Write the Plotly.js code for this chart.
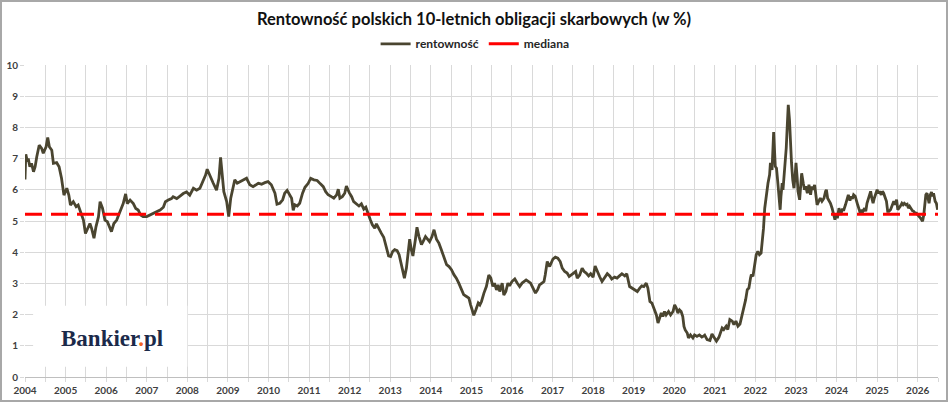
<!DOCTYPE html>
<html>
<head>
<meta charset="utf-8">
<script src="https://cdn.plot.ly/plotly-3.0.1.min.js"></script>
<style>
  html, body { margin: 0; padding: 0; background: #fff; }
  #wrap { position: relative; width: 948px; height: 402px; }
  #chart { width: 948px; height: 402px; }
  #frame { position: absolute; left: 0; top: 0; width: 948px; height: 402px;
           box-sizing: border-box; border: 2px solid #a8a8a8; pointer-events: none; }
</style>
</head>
<body>
<div id="wrap">
  <div id="chart"></div>
  <div id="frame"></div>
</div>
<script>
// ---- data: yield of Polish 10Y treasury bonds ----
const dates = [
  2004.00, 2004.02, 2004.06, 2004.08, 2004.12, 2004.16, 2004.21, 2004.25, 2004.29, 2004.35,
  2004.41, 2004.45, 2004.52, 2004.56, 2004.60, 2004.66, 2004.70, 2004.78, 2004.84, 2004.90,
  2004.96, 2005.03, 2005.08, 2005.12, 2005.19, 2005.26, 2005.31, 2005.37, 2005.44, 2005.49,
  2005.56, 2005.60, 2005.64, 2005.70, 2005.75, 2005.81, 2005.85, 2005.91, 2005.97, 2006.03,
  2006.08, 2006.13, 2006.19, 2006.26, 2006.34, 2006.42, 2006.48, 2006.52, 2006.59, 2006.67,
  2006.73, 2006.79, 2006.85, 2006.91, 2007.00, 2007.08, 2007.16, 2007.24, 2007.33, 2007.41,
  2007.46, 2007.53, 2007.61, 2007.65, 2007.74, 2007.82, 2007.90, 2007.98, 2008.06, 2008.15,
  2008.23, 2008.31, 2008.39, 2008.45, 2008.49, 2008.56, 2008.64, 2008.72, 2008.78, 2008.82,
  2008.86, 2008.90, 2008.97, 2009.02, 2009.07, 2009.13, 2009.17, 2009.23, 2009.30, 2009.38,
  2009.46, 2009.54, 2009.62,
  2009.75, 2009.83, 2009.91, 2009.99, 2010.07, 2010.16, 2010.21, 2010.28, 2010.35, 2010.40,
  2010.46, 2010.53, 2010.57, 2010.61, 2010.65, 2010.71, 2010.77, 2010.84, 2010.90, 2010.98,
  2011.04, 2011.12, 2011.20, 2011.28, 2011.35, 2011.41, 2011.47, 2011.55, 2011.61, 2011.68,
  2011.72, 2011.76, 2011.82, 2011.88, 2011.92, 2011.99, 2012.05, 2012.10, 2012.17, 2012.23,
  2012.29, 2012.35, 2012.40, 2012.46, 2012.51, 2012.56, 2012.62, 2012.66, 2012.73, 2012.78,
  2012.84, 2012.91, 2012.96, 2013.01, 2013.06, 2013.11, 2013.17, 2013.22, 2013.27, 2013.32,
  2013.35, 2013.40, 2013.44, 2013.48, 2013.52, 2013.56, 2013.62, 2013.66, 2013.71, 2013.77,
  2013.81, 2013.87, 2013.92, 2013.97, 2014.03, 2014.08, 2014.14, 2014.20, 2014.26, 2014.32,
  2014.39, 2014.45, 2014.51, 2014.57, 2014.63, 2014.69, 2014.75, 2014.81, 2014.88, 2014.94,
  2014.98, 2015.03, 2015.06, 2015.11, 2015.17,
  2015.21, 2015.25, 2015.31, 2015.37, 2015.43, 2015.48, 2015.53, 2015.57, 2015.62, 2015.66,
  2015.70, 2015.76, 2015.80, 2015.85, 2015.90, 2015.94, 2016.00, 2016.07, 2016.13, 2016.19,
  2016.25, 2016.30, 2016.35, 2016.41, 2016.46, 2016.52, 2016.58, 2016.63, 2016.68, 2016.74,
  2016.79, 2016.82, 2016.87, 2016.93, 2016.97, 2017.01, 2017.07, 2017.13, 2017.19, 2017.24,
  2017.30, 2017.36, 2017.41, 2017.46, 2017.52, 2017.57, 2017.61, 2017.67, 2017.73, 2017.78,
  2017.83, 2017.89, 2017.94, 2018.00, 2018.05, 2018.10, 2018.16, 2018.22, 2018.28, 2018.35,
  2018.41, 2018.46, 2018.53, 2018.59, 2018.65, 2018.71, 2018.78, 2018.83, 2018.90, 2018.96,
  2019.02, 2019.09, 2019.15, 2019.20, 2019.25, 2019.31, 2019.35, 2019.40, 2019.45, 2019.52,
  2019.56, 2019.60, 2019.64, 2019.68, 2019.72, 2019.76, 2019.80, 2019.86, 2019.91, 2019.97,
  2020.01, 2020.05, 2020.09, 2020.13, 2020.17, 2020.21, 2020.24, 2020.27, 2020.32, 2020.35,
  2020.40, 2020.46, 2020.50, 2020.56, 2020.62, 2020.68, 2020.73,
  2020.75, 2020.81, 2020.88, 2020.93, 2020.98, 2021.04, 2021.10, 2021.14, 2021.18, 2021.22,
  2021.28, 2021.32, 2021.37, 2021.43, 2021.47, 2021.52, 2021.57, 2021.62, 2021.67, 2021.72,
  2021.76, 2021.80, 2021.84, 2021.88, 2021.90, 2021.94, 2021.98, 2022.02, 2022.06, 2022.10,
  2022.14, 2022.17, 2022.20, 2022.23, 2022.27, 2022.31, 2022.35, 2022.37, 2022.41, 2022.45,
  2022.49, 2022.52, 2022.55, 2022.59, 2022.61, 2022.63, 2022.66, 2022.68, 2022.72, 2022.76,
  2022.79, 2022.81, 2022.84, 2022.86, 2022.89, 2022.92, 2022.95, 2022.98, 2023.00, 2023.03,
  2023.05, 2023.09, 2023.11, 2023.14, 2023.18, 2023.21, 2023.24, 2023.28, 2023.32, 2023.36,
  2023.39, 2023.42, 2023.46, 2023.49, 2023.52, 2023.56, 2023.60, 2023.64, 2023.69, 2023.73,
  2023.75, 2023.78, 2023.82, 2023.85, 2023.89, 2023.93, 2023.96, 2023.99, 2024.02, 2024.06,
  2024.10, 2024.14, 2024.18, 2024.22, 2024.26, 2024.29, 2024.33, 2024.36, 2024.39, 2024.42,
  2024.46, 2024.49, 2024.52, 2024.56, 2024.59, 2024.62, 2024.65, 2024.69, 2024.72, 2024.75,
  2024.79, 2024.84, 2024.87, 2024.90, 2024.93, 2024.97, 2025.00, 2025.03, 2025.06, 2025.10,
  2025.13, 2025.16, 2025.20, 2025.23, 2025.26, 2025.29, 2025.33, 2025.37, 2025.41, 2025.44,
  2025.48, 2025.51, 2025.54, 2025.57, 2025.61, 2025.64, 2025.67, 2025.71, 2025.74, 2025.77,
  2025.80, 2025.84, 2025.87, 2025.90, 2025.94, 2025.97, 2026.00, 2026.03, 2026.07, 2026.10,
  2026.12, 2026.15, 2026.17, 2026.20, 2026.23, 2026.25, 2026.28, 2026.31, 2026.34, 2026.36,
  2026.39, 2026.43, 2026.46, 2026.49
];
const yields = [
  6.33, 7.14, 6.90, 7.00, 6.74, 6.85, 6.58, 6.74, 7.06, 7.43,
  7.33, 7.17, 7.38, 7.68, 7.38, 7.27, 6.85, 6.87, 6.74, 6.37,
  5.83, 6.05, 5.83, 5.51, 5.62, 5.46, 5.51, 5.30, 5.03, 4.60,
  4.82, 4.92, 4.77, 4.45, 4.82, 5.13, 5.62, 5.41, 5.03, 4.98,
  4.82, 4.66, 4.92, 5.03, 5.30, 5.56, 5.87, 5.56, 5.67, 5.56,
  5.40, 5.35, 5.19, 5.14, 5.14, 5.19, 5.24, 5.30, 5.35, 5.44,
  5.62, 5.67, 5.72, 5.78, 5.72, 5.80, 5.88, 5.93, 5.83, 6.05,
  5.99, 6.05, 6.26, 6.47, 6.66, 6.42, 6.21, 5.99, 6.37, 7.04,
  6.37, 5.94, 5.62, 5.14, 5.73, 6.05, 6.32, 6.21, 6.26, 6.32,
  6.37, 6.16, 6.10,
  6.21, 6.18, 6.23, 6.26, 6.16, 5.89, 5.54, 5.57, 5.68, 5.89,
  5.98, 5.84, 5.73, 5.34, 5.52, 5.48, 5.57, 5.89, 6.08, 6.21,
  6.37, 6.32, 6.30, 6.19, 6.10, 5.94, 5.84, 5.78, 5.73, 5.84,
  6.02, 5.73, 5.78, 5.89, 6.12, 5.91, 5.78, 5.62, 5.55, 5.48,
  5.55, 5.38, 5.44, 5.20, 5.04, 4.88, 4.77, 4.91, 4.72, 4.61,
  4.48, 4.16, 3.88, 3.86, 4.02, 4.08, 4.05, 3.92, 3.65, 3.35,
  3.17, 3.49, 3.97, 4.42, 4.08, 3.88, 4.40, 4.80, 4.50, 4.24,
  4.34, 4.50, 4.42, 4.34, 4.50, 4.72, 4.42, 4.29, 4.08, 3.86,
  3.60, 3.54, 3.44, 3.28, 3.17, 3.01, 2.85, 2.64, 2.58, 2.53,
  2.32, 2.10, 1.98, 2.15, 2.37,
  2.31, 2.42, 2.69, 2.90, 3.27, 3.17, 2.90, 3.01, 2.79, 2.95,
  2.74, 3.01, 2.63, 2.74, 3.01, 2.92, 3.06, 3.14, 3.01, 2.90,
  3.01, 3.06, 3.11, 3.06, 3.01, 2.85, 2.69, 2.79, 2.95, 3.01,
  3.06, 3.27, 3.70, 3.54, 3.67, 3.78, 3.84, 3.81, 3.70, 3.49,
  3.38, 3.33, 3.22, 3.27, 3.31, 3.38, 3.17, 3.27, 3.49, 3.38,
  3.33, 3.24, 3.31, 3.20, 3.56, 3.38, 3.22, 3.06, 3.17, 3.31,
  3.24, 3.14, 3.20, 3.17, 3.24, 3.31, 3.24, 3.31, 2.90, 2.85,
  2.79, 2.74, 2.85, 2.92, 2.90, 3.01, 2.85, 2.42, 2.37, 2.15,
  1.99, 1.73, 1.94, 2.05, 1.94, 2.10, 1.99, 2.10, 1.99, 2.10,
  2.31, 2.21, 2.05, 2.15, 2.10, 1.94, 1.62, 1.51, 1.41, 1.25,
  1.35, 1.25, 1.35, 1.30, 1.35, 1.28, 1.32,
  1.34, 1.20, 1.17, 1.38, 1.27, 1.15, 1.27, 1.44, 1.57, 1.52,
  1.63, 1.52, 1.84, 1.79, 1.68, 1.79, 1.63, 1.70, 1.95, 2.21,
  2.48, 2.80, 2.85, 3.17, 3.28, 3.23, 3.55, 3.92, 4.03, 3.92,
  3.97, 4.35, 4.77, 5.41, 5.84, 6.21, 6.48, 6.86, 6.64, 7.85,
  6.75, 6.69, 6.27, 5.63, 5.36, 5.79, 6.21, 6.00, 6.64, 7.34,
  8.19, 8.72, 8.24, 7.50, 6.86, 6.32, 6.05, 6.48, 6.86, 6.37,
  5.95, 5.68, 6.05, 6.53, 6.21, 6.00, 6.11, 5.89, 6.16, 5.84,
  6.11, 6.00, 6.16, 5.84, 5.52, 5.63, 5.73, 5.63, 5.73, 5.95,
  6.00, 5.73, 5.63, 5.57, 5.41, 5.15, 5.04, 5.25, 5.09, 5.41,
  5.20, 5.36, 5.36, 5.52, 5.68, 5.84, 5.65, 5.79, 5.71, 5.84,
  5.79, 5.63, 5.52, 5.36, 5.20, 5.36, 5.31, 5.41, 5.31, 5.57,
  5.73, 5.95, 5.73, 5.57, 5.73, 5.89, 6.00, 5.89, 5.95, 5.84,
  5.95, 5.89, 5.73, 5.63, 5.31, 5.31, 5.36, 5.52, 5.63, 5.52,
  5.68, 5.36, 5.41, 5.47, 5.57, 5.52, 5.57, 5.52, 5.54, 5.41,
  5.47, 5.36, 5.33, 5.31, 5.25, 5.25, 5.18, 5.15, 5.09, 5.04,
  4.99, 5.20, 5.52, 5.84, 5.89, 5.73, 5.57, 5.84, 5.93, 5.79,
  5.89, 5.63, 5.57, 5.36
];
const medianValue = 5.22;
const axisRange = [2004, 2026.5];
const yearLabels = [];
for (let y = 2004; y <= 2026; y++) yearLabels.push(y);

// gridlines every half year, labels only on full years
const tickVals = [];
const tickText = [];
yearLabels.forEach(y => {
  tickVals.push(y, y + 0.5);
  tickText.push(String(y), '');
});

const FONT = 'Lato, "Open Sans", sans-serif';
const GRID = '#d9d9d9';
const LINE_COLOR = '#4a4530';
const MEDIAN_COLOR = '#ff0000';

const traces = [
  {
    type: 'scatter',
    mode: 'lines',
    name: 'rentowność',
    x: dates,
    y: yields,
    line: { color: LINE_COLOR, width: 2.8 },
    hoverinfo: 'x+y',
  },
  {
    // the dashed median line itself (legend entry below is drawn solid, as in Excel)
    type: 'scatter',
    mode: 'lines',
    name: 'mediana',
    x: axisRange,
    y: axisRange.map(() => medianValue),
    line: { color: MEDIAN_COLOR, width: 3, dash: '17px,9px' },
    showlegend: false,
    hoverinfo: 'y',
  },
  {
    type: 'scatter',
    mode: 'lines',
    name: 'mediana',
    x: [null],
    y: [null],
    line: { color: MEDIAN_COLOR, width: 3 },
    hoverinfo: 'skip',
  },
];

const layout = {
  width: 948,
  height: 402,
  margin: { l: 25, r: 10, t: 65, b: 25 },
  paper_bgcolor: '#ffffff',
  plot_bgcolor: '#ffffff',
  font: { family: FONT, size: 10, color: '#404040' },
  title: {
    text: 'Rentowność polskich 10-letnich obligacji skarbowych (w %)',
    font: { family: FONT, size: 16.5, color: '#111111', weight: 'bold' },
    x: 0.5, xanchor: 'center',
    y: 0.952, yanchor: 'middle',
  },
  showlegend: true,
  legend: {
    orientation: 'h',
    x: 0.493, xanchor: 'center',
    y: 1.068, yanchor: 'middle',
    font: { family: FONT, size: 12, color: '#262626', weight: 'bold' },
    itemwidth: 30,
    tracegroupgap: 0,
  },
  xaxis: {
    range: axisRange,
    tickmode: 'array',
    tickvals: tickVals,
    ticktext: tickText,
    showgrid: true,
    gridcolor: GRID,
    gridwidth: 1,
    showline: true,
    linecolor: '#bfbfbf',
    ticks: 'outside',
    ticklen: 4,
    tickcolor: GRID,
    tickfont: { family: FONT, size: 10, color: '#404040', weight: 'bold' },
    zeroline: false,
    fixedrange: true,
  },
  yaxis: {
    range: [0, 10],
    dtick: 1,
    showgrid: true,
    gridcolor: GRID,
    gridwidth: 1,
    showline: false,
    ticks: 'outside',
    ticklen: 4,
    tickcolor: GRID,
    tickfont: { family: FONT, size: 10, color: '#404040', weight: 'bold' },
    zeroline: false,
    fixedrange: true,
  },
  shapes: [
    // white backing box for the logo
    {
      type: 'rect', layer: 'between',
      xref: 'x', yref: 'y',
      x0: 2004.2, x1: 2008.0, y0: 0.33, y1: 2.28,
      fillcolor: '#ffffff', line: { width: 0 },
    },
  ],
  annotations: [
    {
      xref: 'x', yref: 'y',
      x: 2006.15, y: 1.25,
      text: 'Bankier<span style="color:#f26522">.</span>pl',
      showarrow: false,
      font: { family: '"Liberation Serif", "DejaVu Serif", serif', size: 23, color: '#1b2a4a', weight: 'bold' },
    },
  ],
};

Plotly.newPlot('chart', traces, layout, { displayModeBar: false, staticPlot: true });
</script>
</body>
</html>
